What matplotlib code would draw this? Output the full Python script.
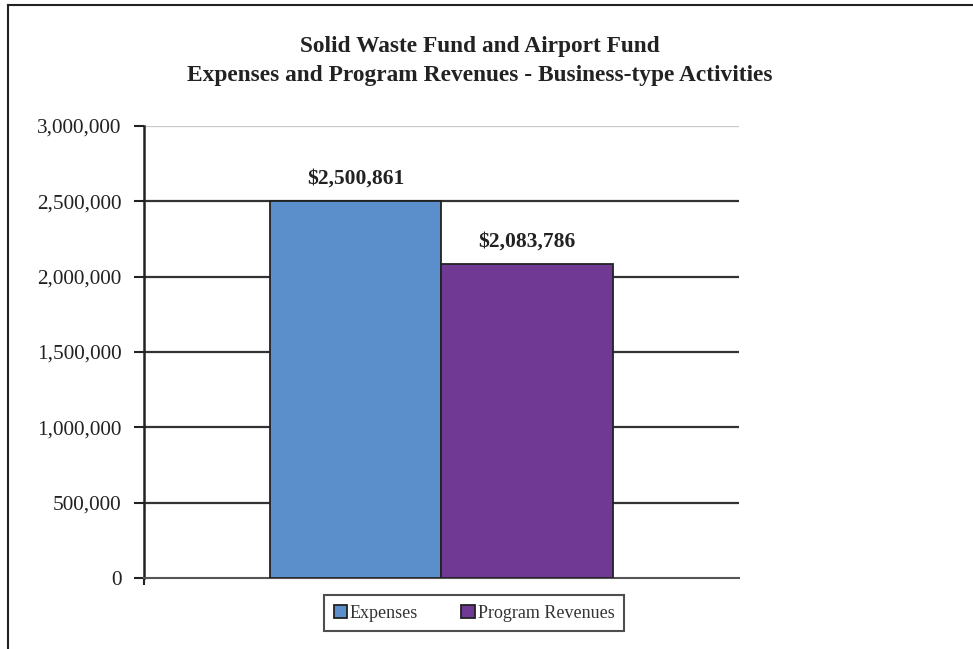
import numpy as np
import matplotlib
matplotlib.use("Agg")
from matplotlib import pyplot as plt
from matplotlib.lines import Line2D

series = ["Expenses", "Program Revenues"]
values = [2500861, 2083786]
colors = ["#5A8FCB", "#703A94"]
yticks = [0, 500000, 1000000, 1500000, 2000000, 2500000, 3000000]
title = "Solid Waste Fund and Airport Fund\nExpenses and Program Revenues - Business-type Activities"

plt.rcParams['font.family'] = ['Liberation Serif', 'DejaVu Serif']

fig = plt.figure(figsize=(9.73, 6.49), dpi=100)
ax = fig.add_axes([0.148, 0.1094, 0.6115, 0.6965])

w = 0.575
xs = [-w / 2, w / 2]
for x, v, c, s in zip(xs, values, colors, series):
    ax.bar(x, v, width=w, color=c, edgecolor="#222222", linewidth=1.3, label=s, zorder=3)
    ax.text(x, v + 85000, "${:,}".format(v), ha="center", va="bottom",
            fontsize=15.5, fontweight="bold", color="#222222")

ax.set_xlim(-1, 1)
ax.set_ylim(0, 3000000)
ax.set_yticks(yticks)
ax.set_yticklabels(["{:,}".format(t) for t in yticks], fontsize=15.3, color="#222222")
ax.set_xticks([-1])
ax.set_xticklabels([])
ax.tick_params(axis="x", direction="out", length=5, width=1.5, color="#222222")
ax.tick_params(axis="y", direction="out", length=7, width=1.5, color="#222222", pad=9)

for t in yticks[1:-1]:
    ax.axhline(t, color="#333333", linewidth=1.6, zorder=1)
ax.axhline(yticks[-1], color="#c8c8c8", linewidth=1.6, zorder=1)

for k in ["top", "right"]:
    ax.spines[k].set_visible(False)
ax.spines["left"].set_linewidth(1.8)
ax.spines["left"].set_color("#222222")
ax.spines["bottom"].set_linewidth(1.5)
ax.spines["bottom"].set_color("#555555")

fig.text(0.493, 1 - 61 / 649, title, ha="center", va="center", fontsize=16.8,
         fontweight="bold", linespacing=1.5, color="#222222")

leg = ax.legend(loc="center", bbox_to_anchor=(474 / 973, 1 - 613 / 649),
                bbox_transform=fig.transFigure, ncol=2, frameon=True, fancybox=False,
                fontsize=13, handlelength=0.75, handleheight=0.75, handletextpad=0.15,
                columnspacing=2.4, borderpad=0.55, borderaxespad=0)
leg.get_frame().set_edgecolor("#222222")
leg.get_frame().set_linewidth(1.5)
for t in leg.get_texts():
    t.set_color("#333333")
# widen the frame padding horizontally like the reference
leg._legend_box.sep = 0

# outer border (top and left edges visible)
fig.add_artist(Line2D([8 / 973, 8 / 973], [0, 1 - 5 / 649], transform=fig.transFigure,
                      color="#222222", linewidth=1.5))
fig.add_artist(Line2D([8 / 973, 1], [1 - 5 / 649, 1 - 5 / 649], transform=fig.transFigure,
                      color="#222222", linewidth=1.5))

fig.savefig("out.png", dpi=100)
